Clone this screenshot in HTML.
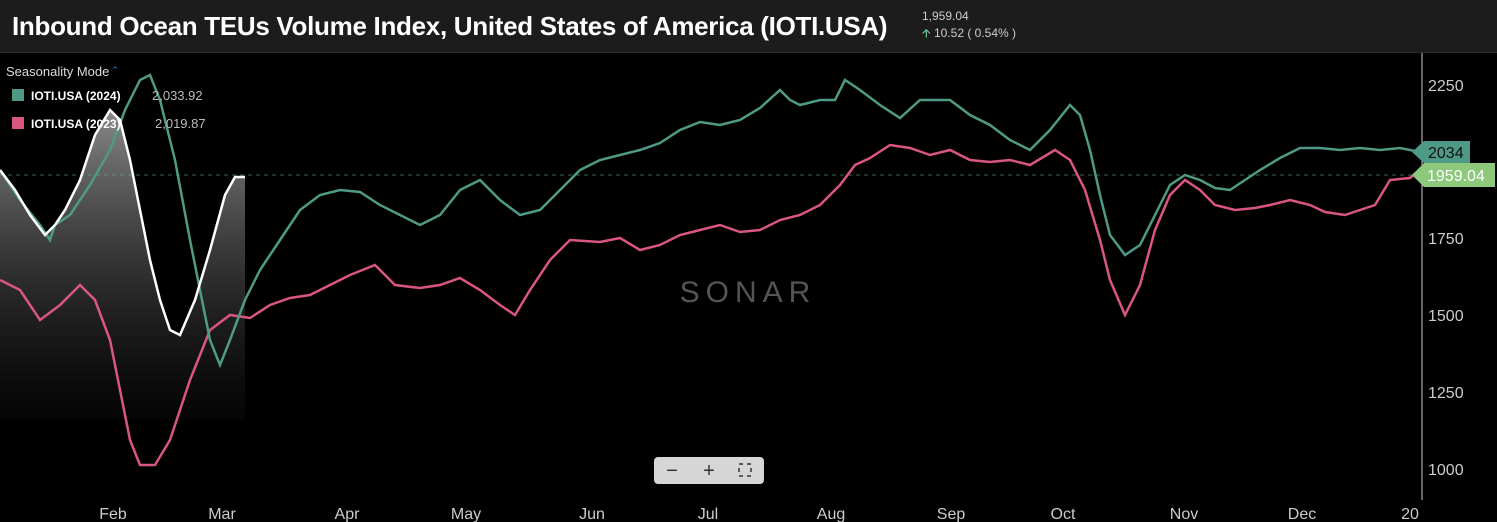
<!DOCTYPE html>
<html><head><meta charset="utf-8"><style>
body{margin:0;background:#000;width:1497px;height:522px;overflow:hidden;font-family:"Liberation Sans",sans-serif}
.hdr{position:absolute;left:0;top:0;width:1497px;height:52px;background:#1c1c1c;border-bottom:1px solid #2a2a2a}
</style></head><body>
<div class="hdr">
<div style="position:absolute;left:12px;top:11px;color:#fff;font-weight:bold;font-size:26px;letter-spacing:-0.3px">Inbound Ocean TEUs Volume Index, United States of America (IOTI.USA)</div>
<div style="position:absolute;left:922px;top:9px;color:#ccc;font-size:12px">1,959.04</div>
<div style="position:absolute;left:922px;top:24px;color:#ccc;font-size:12px"><span style="color:#6fd39a">&#129129;</span> 10.52 ( 0.54% )</div>
</div>
<svg width="1497" height="522" style="position:absolute;left:0;top:0">
<defs><linearGradient id="g" x1="0" y1="0" x2="0" y2="1"><stop offset="0" stop-color="#999" stop-opacity=".9"/><stop offset="1" stop-color="#111" stop-opacity=".3"/></linearGradient></defs>
<polygon fill="url(#g)" points="0,170 15,190 30,215 45,235 55,225 65,210 80,180 95,135 110,110 120,120 130,160 140,210 150,260 160,300 170,330 180,335 195,300 210,250 225,195 235,177 245,177 245,420 0,420"/>
<line x1="1422" y1="53" x2="1422" y2="500" stroke="#ccc" stroke-width="1"/>
<line x1="0" y1="175" x2="1422" y2="175" stroke="#6a8" stroke-dasharray="4,4" stroke-width="1" opacity=".6"/>
<g fill="#ccc" font-size="16">
<text x="1428" y="91">2250</text><text x="1428" y="244">1750</text><text x="1428" y="321">1500</text><text x="1428" y="398">1250</text><text x="1428" y="475">1000</text>
</g>
<g fill="#ccc" font-size="16" text-anchor="middle">
<text x="113" y="519">Feb</text><text x="222" y="519">Mar</text><text x="347" y="519">Apr</text><text x="466" y="519">May</text><text x="592" y="519">Jun</text><text x="708" y="519">Jul</text><text x="831" y="519">Aug</text><text x="951" y="519">Sep</text><text x="1063" y="519">Oct</text><text x="1184" y="519">Nov</text><text x="1302" y="519">Dec</text><text x="1410" y="519">20</text>
</g>
<text x="748" y="302" fill="#555" font-size="30" text-anchor="middle" letter-spacing="6">SONAR</text>
<polyline fill="none" stroke="#d9577f" stroke-width="2.5" points="0,280 20,290 40,320 60,305 80,285 95,300 110,340 120,390 130,440 140,465 155,465 170,440 190,380 210,330 230,315 250,318 270,305 290,298 310,295 330,285 350,275 375,265 395,285 420,288 440,285 460,278 480,290 500,305 515,315 530,290 550,260 570,240 600,242 620,238 640,250 660,245 680,235 700,230 720,225 740,232 760,230 780,220 800,215 820,205 840,185 855,165 870,158 890,145 910,148 930,155 950,150 970,160 990,162 1010,160 1030,165 1055,150 1070,160 1085,190 1100,240 1110,280 1125,315 1140,285 1155,230 1170,195 1185,180 1200,190 1215,205 1235,210 1255,208 1270,205 1290,200 1310,205 1325,212 1345,215 1360,210 1375,205 1390,180 1410,178 1422,168"/>
<polyline fill="none" stroke="#4f9a86" stroke-width="2.5" points="0,170 20,200 40,225 50,240 55,225 70,215 90,185 110,150 125,110 140,80 150,75 160,100 175,160 190,240 200,290 210,340 220,365 230,340 245,300 260,270 280,240 300,210 320,195 340,190 360,192 380,205 400,215 420,225 440,215 460,190 480,180 500,200 520,215 540,210 560,190 580,170 600,160 620,155 640,150 660,143 680,130 700,122 720,125 740,120 760,108 780,90 790,100 800,105 820,100 835,100 845,80 860,90 880,105 900,118 920,100 950,100 970,115 990,125 1010,140 1030,150 1050,130 1070,105 1080,115 1090,150 1100,195 1110,235 1125,255 1140,245 1155,215 1170,185 1185,175 1200,180 1215,188 1230,190 1245,180 1260,170 1280,158 1300,148 1320,148 1340,150 1360,148 1380,150 1400,148 1420,152"/>
<polyline fill="none" stroke="#fff" stroke-width="2.5" points="0,170 15,190 30,215 45,235 55,225 65,210 80,180 95,135 110,110 120,120 130,160 140,210 150,260 160,300 170,330 180,335 195,300 210,250 225,195 235,177 245,177"/>
<polygon fill="#4f9a86" points="1412,152 1424,141 1470,141 1470,163 1424,163"/>
<text x="1428" y="158" fill="#111" font-size="16">2034</text>
<polygon fill="#8cc97a" points="1412,175 1424,163 1495,163 1495,187 1424,187"/>
<text x="1427" y="181" fill="#fff" font-size="16">1959.04</text>
<text x="6" y="76" fill="#ddd" font-size="13">Seasonality Mode <tspan fill="#3b82f6">&#710;</tspan></text>
<rect x="12" y="89" width="12" height="12" fill="#4f9a86"/><text x="31" y="100" fill="#fff" font-size="12" font-weight="bold">IOTI.USA (2024)</text><text x="152" y="100" fill="#bbb" font-size="13">2,033.92</text>
<rect x="12" y="117" width="12" height="12" fill="#d9577f"/><text x="31" y="128" fill="#fff" font-size="12" font-weight="bold">IOTI.USA (2023)</text><text x="155" y="128" fill="#bbb" font-size="13">2,019.87</text>
<rect x="654" y="457" width="110" height="27" rx="4" fill="#d6d6d6"/>
<text x="672" y="477" fill="#333" font-size="20" text-anchor="middle">−</text>
<text x="709" y="477" fill="#333" font-size="20" text-anchor="middle">+</text>
<rect x="739" y="464" width="12" height="12" fill="none" stroke="#333" stroke-width="1.5" stroke-dasharray="4,4"/>
</svg>
</body></html>
